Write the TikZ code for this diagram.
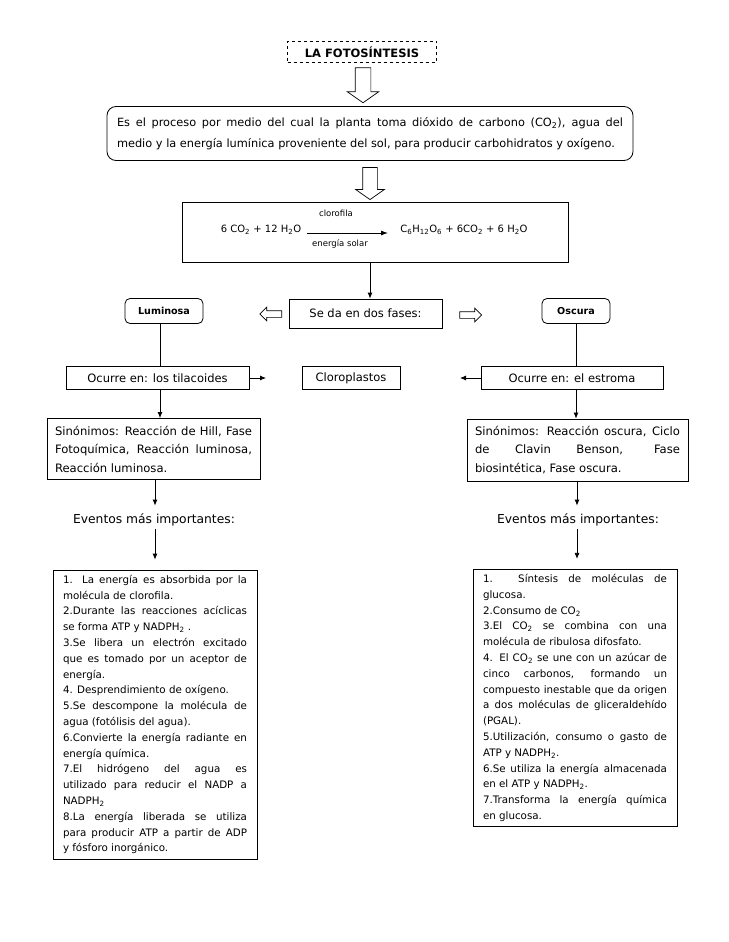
\documentclass[tikz,border=0pt]{standalone}
\usepackage{fontspec}
\setmainfont{DejaVu Sans}
\usetikzlibrary{positioning,shapes.arrows,arrows.meta}
\newcommand{\sbs}[1]{\textsubscript{#1}}

\begin{document}
\begin{tikzpicture}[x=1pt,y=-1pt,
  % Styles
  plainbox/.style={draw,line width=0.8pt,inner sep=0pt,minimum height=23,
    font=\fontsize{11.5}{14}\selectfont},
  phasebox/.style={plainbox,rounded corners=5pt,minimum height=25,
    font=\fontsize{9.6}{12}\selectfont\bfseries},
  parabox/.style={draw,line width=0.8pt,align=justify,inner xsep=8pt,inner ysep=4pt},
  listbox/.style={parabox,text width=184,inner xsep=10pt,inner ysep=5pt,
    font=\fontsize{10.3}{15.8}\selectfont},
  hollow/.style={single arrow,draw,line width=0.7pt,inner xsep=0pt},
  arr/.style={-{Latex[length=6pt,width=5pt]},line width=0.8pt},
  eqarr/.style={-{Latex[length=7pt,width=5pt]},line width=0.9pt}]
\useasboundingbox (0,0) rectangle (728,942);

% Title and definition
\node[draw,dashed,line width=0.7pt,minimum width=149,minimum height=21,inner sep=0pt,
  font=\fontsize{11.5}{14}\selectfont\bfseries] (title) at (362,52) {LA FOTOSÍNTESIS};
\node[hollow,rotate=-90,minimum height=35,inner ysep=7.5pt,single arrow head extend=8pt,
  single arrow tip angle=110] (down1) at (363,82.5) {};
\node[parabox,rounded corners=9pt,text width=506,inner xsep=10pt,minimum height=54,
  font=\fontsize{11.35}{20.5}\selectfont] (def) at (370,133.5)
  {Es el proceso por medio del cual la planta toma dióxido de carbono (CO\sbs{2}), agua del\linebreak
   medio y la energía lumínica proveniente del sol, para producir carbohidratos y oxígeno.};
\node[hollow,rotate=-90,minimum height=32,inner ysep=7pt,single arrow head extend=7pt,
  single arrow tip angle=110] (down2) at (370,181) {};

% Equation
\node[draw,line width=0.8pt,minimum width=386,minimum height=60,inner sep=0pt] (eq) at (375,232) {};
\node[font=\fontsize{10}{12}\selectfont,inner sep=0pt] (react) at (261,230)
  {6 CO\sbs{2} + 12 H\sbs{2}O};
\node[font=\fontsize{10}{12}\selectfont,inner sep=0pt] (prod) at (464,230)
  {C\sbs{6}H\sbs{12}O\sbs{6} + 6CO\sbs{2} + 6 H\sbs{2}O};
\coordinate (eqa) at (307,233);
\coordinate (eqb) at (388,233);
\draw[eqarr] (eqa) -- (eqb);
\node[font=\fontsize{8.5}{10}\selectfont,inner sep=0pt] (clor) at (336,213) {clorofila};
\node[font=\fontsize{8.5}{10}\selectfont,inner sep=0pt] (sol) at (340,244) {energía solar};

% Phases
\coordinate (mid) at (370,0);
\node[plainbox,minimum width=153,minimum height=29] (fases) at (365.5,313.5) {Se da en dos fases:};
\draw[arr] (eq.south -| mid) -- (fases.north -| mid);
\node[phasebox,minimum width=78] (lum) at (164,311) {Luminosa};
\node[phasebox,minimum width=68] (osc) at (576,311) {Oscura};
\node[hollow,rotate=180,minimum height=22,inner ysep=3pt,single arrow head extend=3.5pt] (left) at (272.5,314) {};
\node[hollow,minimum height=22,inner ysep=3pt,single arrow head extend=3.5pt] (right) at (469,315) {};

% Where
\coordinate (lx) at (160,0);
\coordinate (rx) at (576,0);
\node[plainbox,minimum width=183] (ocl) at (157.5,378) {Ocurre en: los tilacoides};
\node[plainbox,minimum width=98] (clo) at (351,378) {Cloroplastos};
\node[plainbox,minimum width=182] (ocr) at (572,378) {Ocurre en: el estroma};
\coordinate (clol) at (266,378);
\coordinate (clor2) at (460,378);
\draw[line width=0.8pt] (lum.south -| lx) -- (ocl.north -| lx);
\draw[line width=0.8pt] (osc.south -| rx) -- (ocr.north -| rx);
\draw[arr] (ocl.east) -- (clol);
\draw[arr] (ocr.west) -- (clor2);

% Synonyms
\node[parabox,text width=197,minimum height=61,font=\fontsize{11.6}{18.5}\selectfont] (sinl) at (153.5,449)
  {Sinónimos: Reacción de Hill, Fase\linebreak
   Fotoquímica, Reacción luminosa,\linebreak
   Reacción luminosa.};
\node[parabox,text width=205,minimum height=62,font=\fontsize{11.6}{18.5}\selectfont] (sinr) at (577.5,450)
  {Sinónimos: Reacción oscura, Ciclo\linebreak
   de Clavin Benson, Fase\linebreak
   biosintética, Fase oscura.};
\draw[arr] (ocl.south -| lx) -- (sinl.north -| lx);
\draw[arr] (ocr.south -| rx) -- (sinr.north -| rx);

% Events
\coordinate (le) at (155,0);
\coordinate (re) at (577,0);
\node[font=\fontsize{12.3}{14}\selectfont,inner sep=0pt] (evl) at (154,520) {Eventos más importantes:};
\node[font=\fontsize{12.3}{14}\selectfont,inner sep=0pt] (evr) at (578,520) {Eventos más importantes:};
\node[listbox] (listl) at (155,714.5)
  {1. La energía es absorbida por la\linebreak
   molécula de clorofila.\\
   2.Durante las reacciones acíclicas\linebreak
   se forma ATP y NADPH\sbs{2} .\\
   3.Se libera un electrón excitado\linebreak
   que es tomado por un aceptor de\linebreak
   energía.\\
   4. Desprendimiento de oxígeno.\\
   5.Se descompone la molécula de\linebreak
   agua (fotólisis del agua).\\
   6.Convierte la energía radiante  en\linebreak
   energía química.\\
   7.El hidrógeno del agua es\linebreak
   utilizado para reducir el NADP a\linebreak
   NADPH\sbs{2}\\
   8.La energía liberada se utiliza\linebreak
   para producir ATP a partir de ADP\linebreak
   y fósforo inorgánico.};
\node[listbox] (listr) at (575,698)
  {1. Síntesis de moléculas de\linebreak
   glucosa.\\
   2.Consumo de CO\sbs{2}\\
   3.El CO\sbs{2} se combina con una\linebreak
   molécula de ribulosa difosfato.\\
   4. El CO\sbs{2} se une con un azúcar de\linebreak
   cinco carbonos, formando un\linebreak
   compuesto inestable que da origen\linebreak
   a dos moléculas de gliceraldehído\linebreak
   (PGAL).\\
   5.Utilización, consumo o gasto de\linebreak
   ATP y NADPH\sbs{2}.\\
   6.Se utiliza la energía almacenada\linebreak
   en el ATP y NADPH\sbs{2}.\\
   7.Transforma la energía química\linebreak
   en glucosa.};
\draw[arr,shorten >=8pt] (sinl.south -| le) -- (evl.north -| le);
\draw[arr,shorten >=8pt] (sinr.south -| re) -- (evr.north -| re);
\draw[arr,shorten <=3pt,shorten >=10pt] (evl.south -| le) -- (listl.north -| le);
\draw[arr,shorten <=3pt,shorten >=10pt] (evr.south -| re) -- (listr.north -| re);
\end{tikzpicture}
\end{document}
